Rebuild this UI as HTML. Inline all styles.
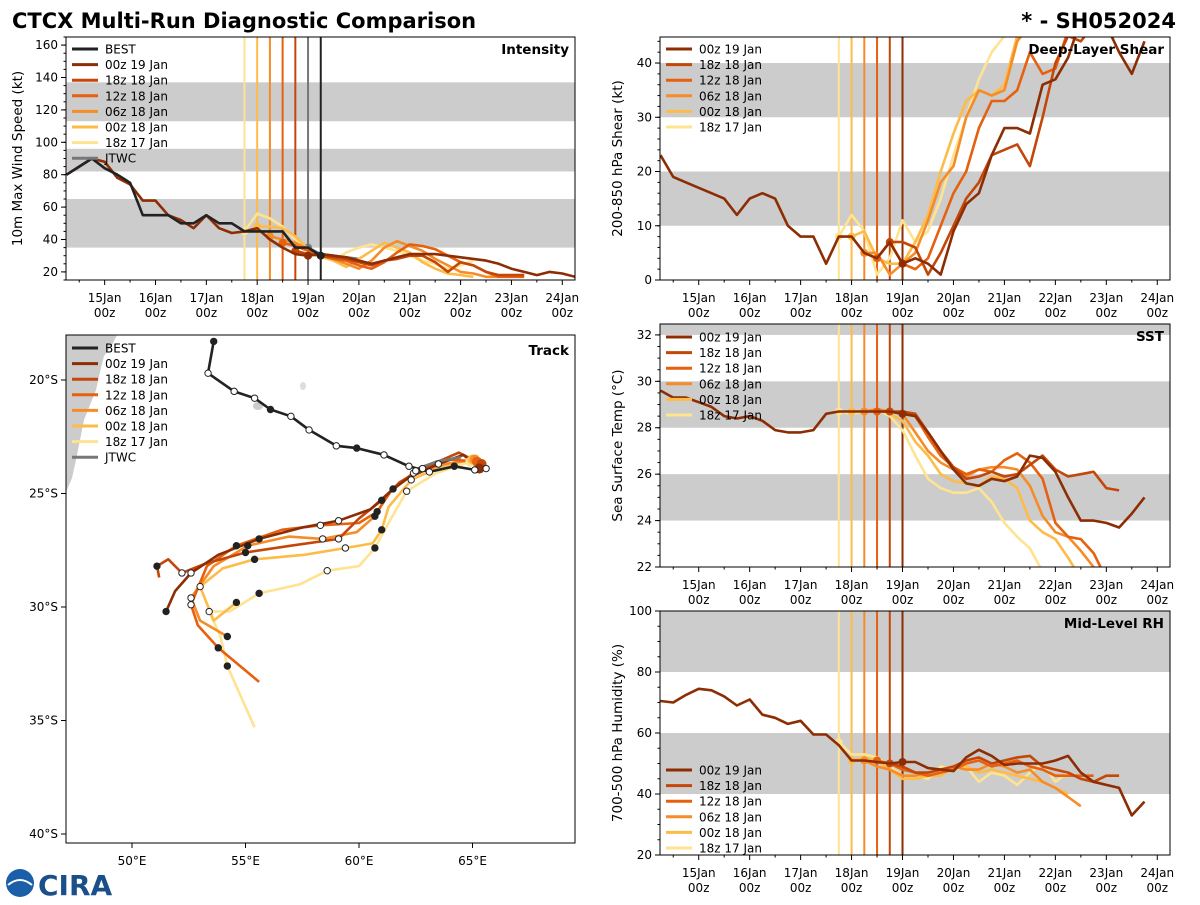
<!DOCTYPE html>
<html><head><meta charset="utf-8"><style>
body{margin:0;background:#fff;font-family:"Liberation Sans","DejaVu Sans",sans-serif}
svg text{font-family:"DejaVu Sans","Liberation Sans",sans-serif}
</style></head><body>
<svg id="c" width="1200" height="900" xmlns="http://www.w3.org/2000/svg">
<text x="12" y="28" font-size="21" font-weight="bold">CTCX Multi-Run Diagnostic Comparison</text>
<text x="1176" y="28" font-size="21" font-weight="bold" text-anchor="end">* - SH052024</text>
<g>
<circle cx="20" cy="883" r="14" fill="#1a5fa8"/><path d="M8 885 Q20 875 32 885" stroke="#fff" stroke-width="2" fill="none"/>
<text x="38" y="895" font-size="28" font-weight="bold" fill="#1a4f8a" font-family="Liberation Serif,serif">CIRA</text>
</g>
</svg>
<script>
const runNames=['BEST','00z 19 Jan','18z 18 Jan','12z 18 Jan','06z 18 Jan','00z 18 Jan','18z 17 Jan','JTWC'];
const runColors=['#222222','#8c2d04','#c4470a','#e6600f','#f68c28','#fdbb47','#fee391','#777777'];
const runInits=[14.25,19.0,18.75,18.5,18.25,18.0,17.75,19.0];
// intensity (kt), 6-hourly from start time
const intBest=[80,85,90,84,80,75,55,55,55,50,50,55,50,50,45,45,45,45,35,35,30];
const int00z19=[80,85,90,88,78,74,64,64,55,52,47,55,47,44,45,47,40,35,31,30,31,30,29,27,25,27,29,31,31,31,30,29,28,27,25,22,20,18,20,19,17];
const int18z18=[33,31,30,29,28,26,24,27,28,30,30,26,20,26,24,20,18,18,18];
const int12z18=[38,36,33,30,28,27,24,22,26,32,37,36,34,30,26,24,20,17,17,17];
const int06z18=[42,40,38,34,30,28,25,22,27,35,39,36,33,28,24,20,19,17,17];
const int00z18=[48,48,47,42,34,30,27,23,28,33,38,35,32,26,22,19,18,17];
const int18z17=[45,56,53,48,40,33,29,27,32,35,37,35,33,30,27,25,22,24,27];
const intJtwc=[35,31,30,29,28];
// shear (kt)
const shr00z19=[23,19,18,17,16,15,12,15,16,15,10,8,8,3,8,8,5,4,7,3,4,3,1,9,14,16,23,28,28,27,36,37,41,48,50,47,42,38,44];
const shr18z18=[7,7,6,1,5,10,15,18,23,24,25,21,30,40,45,44,47];
const shr12z18=[4,7,3,2,4,10,16,20,28,33,33,35,42,38,39,46];
const shr06z18=[5,5,1,3,5,11,18,21,30,35,34,35,44,47,48];
const shr00z18=[8,9,4,3,3,7,12,20,27,33,35,34,36,45,48];
const shr18z17=[8,12,9,1,4,11,7,9,15,23,30,37,42,45,48];
// SST (C)
const sst00z19=[29.6,29.3,29.3,29.1,28.9,28.5,28.4,28.5,28.3,27.9,27.8,27.8,27.9,28.6,28.7,28.7,28.7,28.7,28.7,28.6,28.5,27.8,27.0,26.2,25.6,25.5,25.8,25.7,25.9,26.8,26.7,26.1,25.0,24.0,24.0,23.9,23.7,24.3,25.0];
const sst18z18=[28.7,28.7,28.6,27.8,27.0,26.3,25.8,25.9,26.1,25.9,26.0,26.4,26.8,26.2,25.9,26.0,26.1,25.4,25.3];
const sst12z18=[28.7,28.7,28.6,28.5,27.6,26.8,26.3,26.0,26.2,26.1,26.6,26.9,26.5,25.8,23.9,23.3,23.2,22.6,21.5];
const sst06z18=[28.7,28.8,28.7,28.6,27.8,27.0,26.5,26.2,25.9,26.2,26.3,26.3,26.2,25.5,24.2,23.5,23.3,22.7,22.0];
const sst00z18=[28.7,28.7,28.8,28.6,28.3,27.4,26.8,26.0,25.7,25.6,25.5,25.9,25.8,25.4,24.0,23.5,23.2,22.4,21.5];
const sst18z17=[28.7,28.6,28.7,28.8,28.5,27.9,26.8,25.8,25.4,25.2,25.2,25.4,24.8,23.9,23.3,22.8,21.8,21.0];
// RH (%)
const rh00z19=[70.5,70,72.5,74.5,74,72,69,71,66,65,63,64,59.5,59.5,56,51,51,50.5,50,50.5,50.5,48.5,48,47.5,52,54.5,52.5,49.5,50,50,50,51,52.5,47,44,43,42,33,37.5];
const rh18z18=[50,49,47,47,48,49,51,52,50,51,52,52.5,49,48,47,45,44,46,46];
const rh12z18=[51,50,48,47,46,47,48,50,51,49,50,51,49,48,46,46,46,46];
const rh06z18=[51,49,48,46,46,47,48,49,48,48,50,49,47,48,44,42,39,36];
const rh00z18=[51,52,51,48,45,45,46,46,49,49,47,48,47,46,45,44,42,40];
const rh18z17=[57,53,53,52,49,46,46,45,49,48,49,44,47,46,43,47,50,44,47];
// track [lon E, lat S]
const trkBest=[[53.6,18.3],[53.35,19.7],[54.5,20.5],[55.4,20.8],[56.1,21.3],[57.0,21.6],[57.8,22.2],[59.0,22.9],[59.9,23.0],[61.1,23.3],[62.2,23.8],[63.1,24.05],[64.2,23.8],[65.1,23.96],[65.6,23.9]];
const trk00z19=[[65.3,23.9],[64.6,23.3],[63.5,23.7],[62.2,24.3],[61.5,24.8],[60.5,25.7],[59.1,26.2],[57.5,26.5],[55.6,27.0],[53.8,27.7],[52.6,28.5],[51.9,29.3],[51.5,30.2]];
const trk18z18=[[65.4,23.7],[64.4,23.2],[62.8,23.9],[61.8,24.5],[61.0,25.3],[60.0,26.1],[59.1,27.0],[57.0,27.3],[55.0,27.6],[53.2,28.1],[52.2,28.5],[51.6,27.9],[51.1,28.2],[51.2,28.7]];
const trk12z18=[[65.2,23.6],[64.0,23.5],[62.5,24.0],[61.4,24.9],[60.8,25.8],[60.0,26.3],[58.3,26.4],[56.6,26.6],[54.6,27.3],[53.3,28.2],[52.6,29.9],[52.9,30.8],[53.8,31.8],[55.6,33.3]];
const trk06z18=[[65.1,23.5],[63.8,23.7],[62.4,24.1],[61.3,25.0],[60.7,26.0],[59.9,26.7],[58.4,27.0],[56.9,26.9],[55.1,27.3],[53.6,28.2],[52.6,29.6],[53.0,30.6],[54.2,31.3]];
const trk00z18=[[65.0,23.5],[63.6,23.8],[62.3,24.4],[61.3,25.6],[61.0,26.6],[60.6,27.2],[59.4,27.4],[57.6,27.7],[55.4,27.9],[54.0,28.3],[53.0,29.1],[53.6,30.6],[54.6,29.8]];
const trk18z17=[[64.9,23.6],[63.4,24.1],[62.1,24.9],[61.3,26.3],[60.7,27.4],[60.0,28.2],[58.6,28.4],[57.4,29.0],[55.6,29.4],[54.3,30.2],[53.4,30.2],[53.9,31.3],[54.2,32.6],[55.4,35.3]];
const trkJtwc=[[64.5,23.4],[63.4,23.6],[62.6,23.9]];
const xTickLabels=['15Jan','16Jan','17Jan','18Jan','19Jan','20Jan','21Jan','22Jan','23Jan','24Jan'];

const NS='http://www.w3.org/2000/svg';
const svg=document.getElementById('c');
function mk(tag,at,parent){const e=document.createElementNS(NS,tag);for(const k in at)e.setAttribute(k,at[k]);(parent||svg).appendChild(e);return e;}
function txt(x,y,s,size,anchor,parent,extra){const e=mk('text',Object.assign({x:x,y:y,'font-size':size,'text-anchor':anchor||'start'},extra||{}),parent);e.textContent=s;return e;}

function panel(p){
  const g=mk('g',{});
  
  
  const t0=14.24,t1=24.25;
  const X=t=>p.x0+(t-t0)/(t1-t0)*(p.x1-p.x0);
  const Y=v=>p.y1-(v-p.ymin)/(p.ymax-p.ymin)*(p.y1-p.y0);
  const cp='cp'+p.id;
  const d=mk('clipPath',{id:cp},g);mk('rect',{x:p.x0,y:p.y0,width:p.x1-p.x0,height:p.y1-p.y0},d);
  const pg=mk('g',{'clip-path':'url(#'+cp+')'},g);
  p.bands.forEach(b=>{const r=mk('rect',{x:p.x0,y:Y(Math.min(b[1],p.ymax)),width:p.x1-p.x0,height:Y(b[0])-Y(Math.min(b[1],p.ymax)),fill:'#cccccc'},pg);
    });
  p.vlines.forEach(v=>{const l=mk('line',{x1:X(v[0]),x2:X(v[0]),y1:p.y0,y2:p.y1,stroke:v[1],'stroke-width':2},pg);
    });
  p.series.slice().reverse().forEach(s=>{
    const pts=s.v.map((v,i)=>X(s.t+i*0.25).toFixed(1)+','+Y(v).toFixed(1)).join(' ');
    const pl=mk('polyline',{points:pts,fill:'none',stroke:s.c,'stroke-width':2.6,'stroke-linejoin':'round'},pg);
    
    
    if(s.dot!==undefined){const i=s.dot;mk('circle',{cx:X(s.t+i*0.25),cy:Y(s.v[i]),r:4,fill:s.c},pg);}
  });
  mk('rect',{x:p.x0,y:p.y0,width:p.x1-p.x0,height:p.y1-p.y0,fill:'none',stroke:'#000','stroke-width':1},g);
  for(let i=0;i<10;i++){const x=X(15+i);mk('line',{x1:x,x2:x,y1:p.y1,y2:p.y1+5,stroke:'#000'},g);
    const a=txt(x,p.y1+22,xTickLabels[i],12,'middle',g);
    txt(x,p.y1+37,'00z',12,'middle',g);}
  for(let t=14.5;t<24.25;t+=0.5){if(t%1!==0)mk('line',{x1:X(t),x2:X(t),y1:p.y1,y2:p.y1+2.5,stroke:'#000'},g);}
  for(let v=Math.ceil(p.ymin/p.minor)*p.minor;v<=p.ymax;v+=p.minor){mk('line',{x1:p.x0-2.5,x2:p.x0,y1:Y(v),y2:Y(v),stroke:'#000'},g);}
  p.yt.forEach(v=>{mk('line',{x1:p.x0-5,x2:p.x0,y1:Y(v),y2:Y(v),stroke:'#000'},g);
    const a=txt(p.x0-8,Y(v)+4,String(v),12,'end',g);});
  const cy=(p.y0+p.y1)/2;const yl=txt(p.ylx,cy,p.ylabel,13.5,'middle',g,{transform:'rotate(-90 '+p.ylx+' '+cy+')'});
  
  const tt=txt(p.x1-6,p.y0+17,p.title,13.5,'end',g,{'font-weight':'bold'});
  legend(g,p.x0+6,p.legY,p.series.map(s=>[s.n,s.c]));
}
function legend(g,x,y,items){
  const lg=mk('g',{},g);
  items.forEach((it,i)=>{const yy=y+i*15.6;
    const l=mk('line',{x1:x,x2:x+26,y1:yy,y2:yy,stroke:it[1],'stroke-width':3},lg);
    
    txt(x+33,yy+4.5,it[0],12,'start',lg);});
}
const C=runColors,T=runInits;
const fc=[1,2,3,4,5,6];
const vl6=fc.slice().reverse().map(i=>[T[i],C[i]]);
panel({id:'i',name:'intensity-panel',x0:66,x1:575,y0:37,y1:280,ymin:15,ymax:165,yt:[20,40,60,80,100,120,140,160],minor:5,
 bands:[[35,65],[82,96],[113,137]],vlines:vl6.slice(0,5).concat([[19.0,C[7]],[19.25,C[0]]]),ylabel:'10m Max Wind Speed (kt)',ylx:22,title:'Intensity',legY:49,
 series:[{n:runNames[0],c:C[0],t:14.25,v:intBest,dot:20},{n:runNames[1],c:C[1],t:14.25,v:int00z19,dot:19},{n:runNames[2],c:C[2],t:T[2],v:int18z18,dot:0},
 {n:runNames[3],c:C[3],t:T[3],v:int12z18,dot:0},{n:runNames[4],c:C[4],t:T[4],v:int06z18,dot:0},{n:runNames[5],c:C[5],t:T[5],v:int00z18,dot:0},
 {n:runNames[6],c:C[6],t:T[6],v:int18z17,dot:0},{n:runNames[7],c:C[7],t:19.0,v:intJtwc,dot:0}]});
function runs(a,first){return fc.map((i,k)=>({n:runNames[i],c:C[i],t:k===0?14.25:T[i],v:a[k],dot:k===0?19:0}));}
panel({id:'s',name:'shear-panel',x0:660,x1:1170,y0:37,y1:280,ymin:0,ymax:44.8,yt:[0,10,20,30,40],minor:2,bands:[[10,20],[30,40]],vlines:vl6,
 ylabel:'200-850 hPa Shear (kt)',ylx:622,title:'Deep-Layer Shear',legY:49,series:runs([shr00z19,shr18z18,shr12z18,shr06z18,shr00z18,shr18z17])});
panel({id:'t',name:'sst-panel',x0:660,x1:1170,y0:324,y1:567,ymin:22,ymax:32.47,yt:[22,24,26,28,30,32],minor:0.5,bands:[[24,26],[28,30],[32,33]],vlines:vl6,
 ylabel:'Sea Surface Temp (°C)',ylx:622,title:'SST',legY:337,series:runs([sst00z19,sst18z18,sst12z18,sst06z18,sst00z18,sst18z17])});
panel({id:'r',name:'rh-panel',x0:660,x1:1170,y0:611,y1:855,ymin:20,ymax:100,yt:[20,40,60,80,100],minor:5,bands:[[40,60],[80,100]],vlines:vl6,
 ylabel:'700-500 hPa Humidity (%)',ylx:622,title:'Mid-Level RH',legY:770,series:runs([rh00z19,rh18z18,rh12z18,rh06z18,rh00z18,rh18z17])});

// track panel
(function(){
  const x0=66,x1=575,y0=335,y1=843;
  const g=mk('g',{});
  const LX=l=>132+(l-50)*22.7, LY=l=>380+(l-20)*22.7;
  const d=mk('clipPath',{id:'cptr'},g);mk('rect',{x:x0,y:y0,width:x1-x0,height:y1-y0},d);
  const pg=mk('g',{'clip-path':'url(#cptr)'},g);
  const land=mk('path',{d:'M66 335 L117 335 L112 345 L104 356 L100 372 L96 390 L90 405 L84 420 L80 440 L76 460 L72 478 L66 492 Z',fill:'#cccccc'},pg);
  
  mk('ellipse',{cx:258,cy:406,rx:5,ry:4,fill:'#cccccc'},pg);mk('ellipse',{cx:303,cy:386,rx:3,ry:4,fill:'#dddddd'},pg);
  const tr=[trkBest,trk00z19,trk18z18,trk12z18,trk06z18,trk00z18,trk18z17,trkJtwc];
  [6,5,4,3,2,1,7,0].forEach(i=>{
    const pts=tr[i].map(p=>LX(p[0]).toFixed(1)+','+LY(p[1]).toFixed(1)).join(' ');
    const pl=mk('polyline',{points:pts,fill:'none',stroke:C[i],'stroke-width':2.6,'stroke-linejoin':'round'},pg);
    
  });
  [6,5,4,3,2,1,0].forEach(i=>{tr[i].forEach((p,k)=>{if(i>0&&k===0){mk('circle',{cx:LX(p[0]),cy:LY(p[1]),r:5,fill:C[i]},pg);return;}
    if(k%2===0||i===0)mk('circle',{cx:LX(p[0]),cy:LY(p[1]),r:3.2,fill:(k%4===0)?'#222':'#fff',stroke:'#222','stroke-width':1},pg);});});
  mk('rect',{x:x0,y:y0,width:x1-x0,height:y1-y0,fill:'none',stroke:'#000'},g);
  [50,55,60,65].forEach(l=>{mk('line',{x1:LX(l),x2:LX(l),y1:y1,y2:y1+5,stroke:'#000'},g);const a=txt(LX(l),y1+22,l+'°E',12,'middle',g);});
  [20,25,30,35,40].forEach(l=>{mk('line',{x1:x0-5,x2:x0,y1:LY(l),y2:LY(l),stroke:'#000'},g);const a=txt(x0-8,LY(l)+4,l+'°S',12,'end',g);});
  const tt=txt(x1-6,y0+20,'Track',13.5,'end',g,{'font-weight':'bold'});
  legend(g,x0+6,348,runNames.map((n,i)=>[n,C[i]]));
})();
</script>
</body></html>
